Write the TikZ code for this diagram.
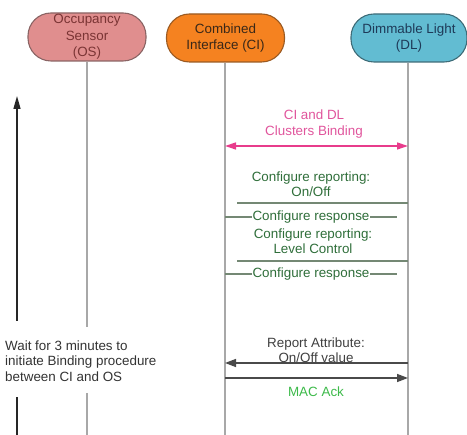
\documentclass[tikz,border=0pt]{standalone}
\usepackage{fontspec}
\setmainfont{Liberation Sans}
\usetikzlibrary{arrows.meta}
\definecolor{osfill}{HTML}{E08E8E}
\definecolor{osdraw}{HTML}{8A6464}
\definecolor{ostext}{HTML}{7A3434}
\definecolor{cifill}{HTML}{F58220}
\definecolor{cidraw}{HTML}{9A5A22}
\definecolor{citext}{HTML}{3A2818}
\definecolor{dlfill}{HTML}{62BCD2}
\definecolor{dldraw}{HTML}{3E6C78}
\definecolor{dltext}{HTML}{1E3A58}
\definecolor{lifegray}{HTML}{A8A8A8}
\definecolor{msggray}{HTML}{4A4A4A}
\definecolor{cfggreen}{HTML}{2F6E3A}
\definecolor{cfgline}{HTML}{748874}
\definecolor{pinkc}{HTML}{E83C8C}
\definecolor{pinktext}{HTML}{E0559C}
\definecolor{ackgreen}{HTML}{3DBA4A}
\tikzset{
  txt/.style={font=\fontsize{13.4}{15.5}\selectfont, align=center, inner sep=0pt},
  actor/.style={draw, line width=1.1pt, rounded corners=23pt, minimum width=118pt, minimum height=48pt, inner sep=0pt, align=center, font=\fontsize{13.4}{16.5}\selectfont},
  lifeline/.style={draw=lifegray, line width=1.3pt},
  msg/.style={draw=msggray, line width=1.4pt},
  cfgl/.style={draw=cfgline, line width=1.4pt},
  tip/.style={-{Triangle[length=11pt,width=8pt]}},
}
\begin{document}
\begin{tikzpicture}[x=1pt,y=-1pt]
\useasboundingbox (0,0) rectangle (467,435);
% actors
\node[actor, fill=osfill, draw=osdraw, text=ostext] (os) at (87,37) {Occupancy\\Sensor\\(OS)};
\node[actor, fill=cifill, draw=cidraw, text=citext] (ci) at (225.5,38) {Combined\\Interface (CI)};
\node[actor, fill=dlfill, draw=dldraw, text=dltext, minimum width=116pt] (dl) at (409,38) {Dimmable Light\\(DL)};
% lifeline coordinates
\coordinate (osA) at (87,327);
\coordinate (osB) at (87,393);
\coordinate (osE) at (87,435);
\coordinate (ciE) at (225,435);
\coordinate (dlE) at (408,435);
\draw[lifeline] (os.south) -- (osA);
\draw[lifeline] (osB) -- (osE);
\draw[lifeline] (ci.south -| 225,0) -- (ciE);
\draw[lifeline] (dl.south -| 408,0) -- (dlE);
% left time arrow
\coordinate (tA) at (17,435);
\coordinate (tB) at (17,397);
\coordinate (tC) at (17,321);
\coordinate (tD) at (17,96);
\draw[draw=black!85, line width=1.4pt] (tA) -- (tB);
\draw[draw=black!85, line width=1.4pt, -{Triangle[length=13pt,width=7pt]}] (tC) -- (tD);
\node[txt, align=left, anchor=west, text=black!80] (wait) at (5,361) {Wait for 3 minutes to\\initiate Binding procedure\\between CI and OS};
% binding
\coordinate (b1) at (225,146);
\coordinate (b2) at (408,146);
\draw[draw=pinkc, line width=1.3pt, {Triangle[length=11pt,width=7pt]}-{Triangle[length=11pt,width=7pt]}] (b1) -- (b2);
\node[txt, text=pinktext] (bind) at (314,124) {CI and DL\\Clusters Binding};
% configure reporting on/off
\node[txt, text=cfggreen] (cfg1) at (311,184) {Configure reporting:\\On/Off};
\coordinate (c1a) at (408,203);
\coordinate (c1b) at (237,203);
\draw[cfgl] (c1a) -- (c1b);
\coordinate (r1a) at (225,217);
\coordinate (r1b) at (397,217);
\draw[cfgl] (r1a) -- (r1b) node[midway, txt, fill=white, inner xsep=1pt, text=cfggreen] (resp1) {Configure response};
% configure reporting level
\node[txt, text=cfggreen] (cfg2) at (313,241) {Configure reporting:\\Level Control};
\coordinate (c2a) at (408,261);
\coordinate (c2b) at (237,261);
\draw[cfgl] (c2a) -- (c2b);
\coordinate (r2a) at (225,274);
\coordinate (r2b) at (397,274);
\draw[cfgl] (r2a) -- (r2b) node[midway, txt, fill=white, inner xsep=1pt, text=cfggreen] (resp2) {Configure response};
% report attribute
\node[txt, text=black!75] (rep) at (316,350) {Report Attribute:\\On/Off value};
\coordinate (ra) at (408,363);
\coordinate (rb) at (225,363);
\draw[msg, tip] (ra) -- (rb);
\coordinate (aa) at (225,378);
\coordinate (ab) at (408,378);
\draw[msg, tip] (aa) -- (ab);
\node[txt, text=ackgreen] (mac) at (316,392) {MAC Ack};
\end{tikzpicture}
\end{document}
